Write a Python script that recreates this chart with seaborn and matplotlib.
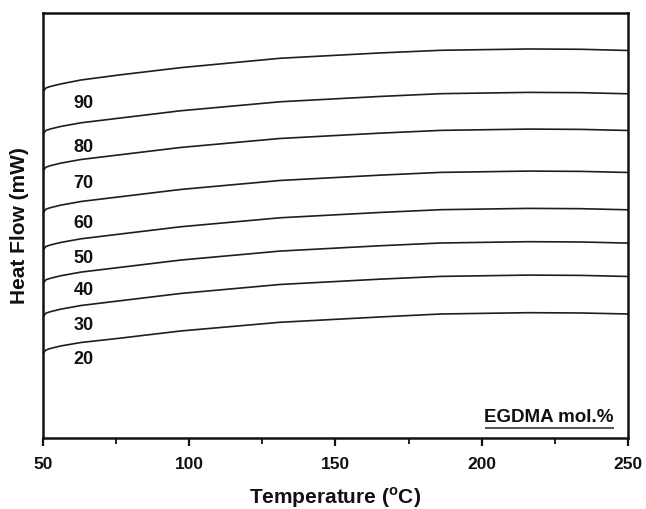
import matplotlib
matplotlib.use("Agg")
import matplotlib.pyplot as plt
from matplotlib.ticker import MultipleLocator, NullLocator
import numpy as np
import pandas as pd
import seaborn as sns

# ---- data ----
temperature = [50, 51, 52.5, 56, 63, 76, 97, 131, 165, 186, 216, 234, 250]

hf_90 = [34.63, 35.00, 35.15, 35.40, 35.80, 36.30, 37.03, 37.97, 38.50, 38.77, 38.90, 38.87, 38.75]
hf_80 = [30.40, 30.75, 30.90, 31.15, 31.52, 31.98, 32.72, 33.62, 34.15, 34.43, 34.56, 34.53, 34.42]
hf_70 = [26.73, 27.08, 27.23, 27.48, 27.85, 28.31, 29.05, 29.95, 30.48, 30.76, 30.89, 30.86, 30.75]
hf_60 = [22.53, 22.88, 23.03, 23.28, 23.65, 24.11, 24.85, 25.75, 26.28, 26.56, 26.69, 26.66, 26.55]
hf_50 = [18.80, 19.15, 19.30, 19.55, 19.92, 20.38, 21.12, 22.02, 22.55, 22.83, 22.96, 22.93, 22.82]
hf_40 = [15.47, 15.82, 15.97, 16.22, 16.59, 17.05, 17.79, 18.69, 19.22, 19.50, 19.63, 19.60, 19.49]
hf_30 = [12.13, 12.48, 12.63, 12.88, 13.25, 13.71, 14.45, 15.35, 15.88, 16.16, 16.29, 16.26, 16.15]
hf_20 = [8.47, 8.80, 8.95, 9.20, 9.55, 9.97, 10.70, 11.57, 12.10, 12.40, 12.53, 12.50, 12.40]

series_names = ["90", "80", "70", "60", "50", "40", "30", "20"]
series_values = [hf_90, hf_80, hf_70, hf_60, hf_50, hf_40, hf_30, hf_20]

# label anchor points (temperature, heat flow)
label_temp = 63.8
label_hf = [33.47, 29.07, 25.40, 21.40, 17.97, 14.73, 11.20, 7.80]

x_ticks = [50, 100, 150, 200, 250]
legend_title = "EGDMA mol.%"

# ---- build long table ----
rows = []
for name, vals in zip(series_names, series_values):
    for t, v in zip(temperature, vals):
        rows.append({"Temperature": t, "HeatFlow": v, "mol": name})
df = pd.DataFrame(rows)

sns.set_style("ticks")
plt.rcParams["font.family"] = ["Liberation Sans", "DejaVu Sans"]
plt.rcParams["font.weight"] = "bold"
plt.rcParams["mathtext.fontset"] = "custom"
plt.rcParams["mathtext.rm"] = "Liberation Sans:bold"
plt.rcParams["mathtext.bf"] = "Liberation Sans:bold"

fig = plt.figure(figsize=(6.46, 5.09), dpi=100)
ax = fig.add_axes([0.0666, 0.1395, 0.9054, 0.835])

for name in series_names:
    sub = df[df["mol"] == name]
    sns.lineplot(data=sub, x="Temperature", y="HeatFlow", ax=ax,
                 color="#1e1e1e", linewidth=1.2, legend=False)

for name, yv in zip(series_names, label_hf):
    ax.text(label_temp, yv, name, ha="center", va="center",
            fontsize=13, fontweight="bold", color="#111111")

ax.set_xlim(50, 250)
ax.set_ylim(0, 42.5)
ax.set_xticks(x_ticks)
ax.set_xticklabels([str(v) for v in x_ticks])
ax.xaxis.set_minor_locator(MultipleLocator(25))
ax.yaxis.set_major_locator(NullLocator())
ax.yaxis.set_minor_locator(NullLocator())

ax.tick_params(axis="x", which="major", direction="out", length=6, width=1.6,
               labelsize=12.5, pad=8, colors="#111111")
ax.tick_params(axis="x", which="minor", direction="out", length=4, width=1.4)
for lab in ax.get_xticklabels():
    lab.set_fontweight("bold")

for sp in ax.spines.values():
    sp.set_visible(True)
    sp.set_linewidth(1.8)
    sp.set_color("#111111")

ax.set_xlabel(r"Temperature ($^{\mathrm{o}}$C)", fontsize=15, fontweight="bold",
              labelpad=9, color="#111111")
ax.set_ylabel("Heat Flow (mW)", fontsize=15, fontweight="bold",
              labelpad=10, color="#111111")

ax.text(0.976, 0.049, legend_title, transform=ax.transAxes, ha="right",
        va="center", fontsize=13.5, fontweight="bold", color="#111111")
ax.plot([0.756, 0.976], [0.023, 0.023], transform=ax.transAxes,
        color="#555555", linewidth=1.4, solid_capstyle="butt")

fig.savefig("out.png", dpi=100)
